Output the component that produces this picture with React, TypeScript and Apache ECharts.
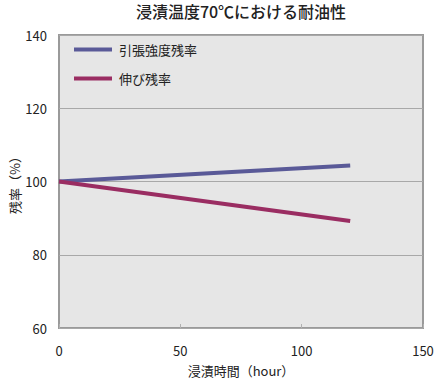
import React, { useEffect, useRef } from "react";
import * as echarts from "echarts";

const hours = [0, 120];
const tensileRetention = [100, 104.4];
const elongationRetention = [100, 89.2];
const seriesNames = ["引張強度残率", "伸び残率"];
const titleText = "浸漬温度70℃における耐油性";
const xName = "浸漬時間（hour）";
const yName = "残率（%）";

const FONT = "'Noto Sans CJK JP', 'Noto Sans', sans-serif";

export default function App() {
  const ref = useRef<HTMLDivElement>(null);
  useEffect(() => {
    if (!ref.current) return;
    const chart = echarts.init(ref.current, undefined, { renderer: "svg" });
    chart.setOption({
      animation: false,
      textStyle: { fontFamily: FONT },
      graphic: [
        {
          type: "text",
          x: 241,
          y: 3,
          style: {
            text: titleText,
            textAlign: "center",
            textVerticalAlign: "top",
            fontSize: 16,
            fontWeight: 500,
            fill: "#222",
            fontFamily: FONT,
          },
        },
        {
          type: "text",
          x: 14,
          y: 182,
          rotation: Math.PI / 2,
          style: {
            text: yName,
            textAlign: "center",
            textVerticalAlign: "middle",
            fontSize: 13,
            fill: "#222",
            fontFamily: FONT,
          },
        },
      ],
      legend: {
        orient: "vertical",
        left: 69,
        top: 38,
        itemWidth: 38,
        itemHeight: 4,
        itemGap: 16,
        icon: "rect",
        textStyle: { fontSize: 13, color: "#222", fontFamily: FONT, padding: [0, 0, 0, 2] },
        data: seriesNames,
      },
      grid: {
        left: 59,
        right: 13,
        top: 35,
        bottom: 54,
        outerBoundsMode: "none",
        containLabel: false,
        show: true,
        backgroundColor: "#e6e6e6",
        borderColor: "#9a9a9a",
        borderWidth: 2,
      },
      xAxis: {
        type: "value",
        min: 0,
        max: 150,
        interval: 50,
        name: xName,
        nameLocation: "middle",
        nameGap: 36,
        nameTextStyle: { fontSize: 13, color: "#222", fontFamily: FONT },
        axisLine: { show: false },
        axisTick: { show: true, inside: true, length: 4, lineStyle: { color: "#b0b0b0" } },
        axisLabel: { fontSize: 13, color: "#222", margin: 16, fontFamily: FONT },
        splitLine: { show: false },
      },
      yAxis: {
        type: "value",
        min: 60,
        max: 140,
        interval: 20,
        axisLine: { show: false },
        axisTick: { show: false },
        axisLabel: { fontSize: 13, color: "#222", margin: 12, fontFamily: FONT },
        splitLine: { show: true, lineStyle: { color: "#a8a8a8", width: 1 } },
      },
      series: [
        {
          name: seriesNames[0],
          type: "line",
          data: hours.map((h, i) => [h, tensileRetention[i]]),
          symbol: "none",
          lineStyle: { color: "#5a5a98", width: 4 },
          itemStyle: { color: "#5a5a98" },
        },
        {
          name: seriesNames[1],
          type: "line",
          data: hours.map((h, i) => [h, elongationRetention[i]]),
          symbol: "none",
          lineStyle: { color: "#9a2d62", width: 4 },
          itemStyle: { color: "#9a2d62" },
        },
      ],
    });
    return () => chart.dispose();
  }, []);
  return <div ref={ref} style={{ width: 436, height: 382, position: "absolute", left: 0, top: 0 }} />;
}
